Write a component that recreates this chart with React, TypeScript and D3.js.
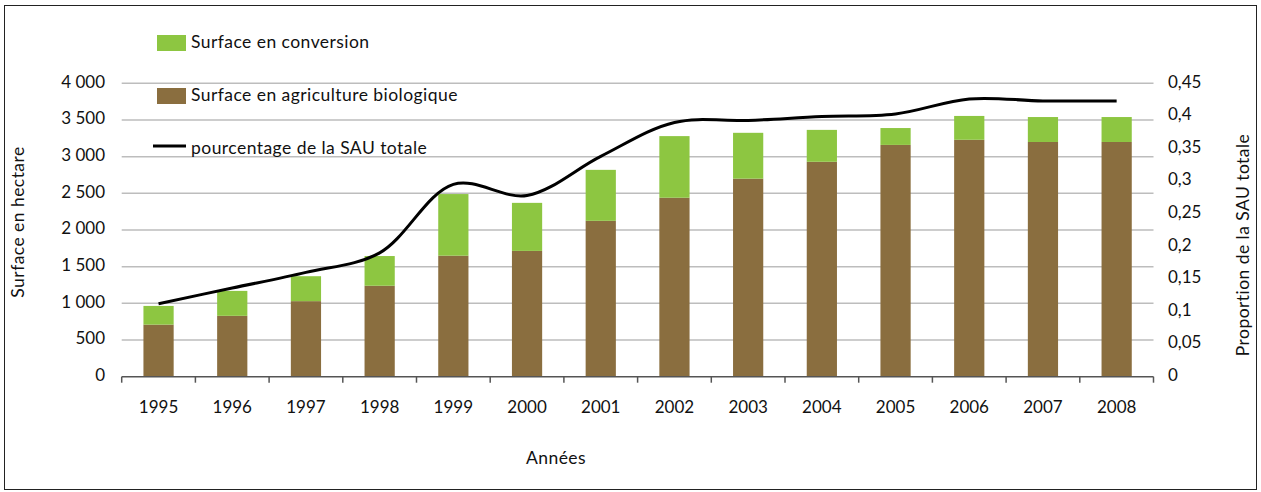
import * as d3 from "d3"

const years = ["1995", "1996", "1997", "1998", "1999", "2000", "2001", "2002", "2003", "2004", "2005", "2006", "2007", "2008"]
const surfaceBio = [710, 830, 1030, 1240, 1650, 1715, 2125, 2440, 2700, 2930, 3160, 3230, 3200, 3200]
const surfaceConversion = [255, 340, 340, 405, 840, 655, 695, 840, 625, 435, 230, 325, 340, 340]
const pourcentageSAU = [0.112, 0.136, 0.16, 0.19, 0.295, 0.278, 0.338, 0.39, 0.393, 0.399, 0.403, 0.426, 0.423, 0.423]
const leftTicks = [0, 500, 1000, 1500, 2000, 2500, 3000, 3500, 4000]
const rightTicks = [0, 0.05, 0.1, 0.15, 0.2, 0.25, 0.3, 0.35, 0.4, 0.45]

const width = 1261
const height = 492
const GREEN = "#8dc641"
const BROWN = "#8a6e3f"
const FONT = "Lato, sans-serif"
const FS_NUM = 17
const FS_TXT = 17.5
const LS = 0.45

const frLeft = (v: number) => (v >= 1000 ? `${Math.floor(v / 1000)} ${String(v % 1000).padStart(3, "0")}` : String(v))
const frRight = (v: number) => String(+v.toFixed(2)).replace(".", ",")

export default function App() {
  const margin = { left: 121.7, right: 1153.5, top: 83.3, bottom: 376.7 }

  const x = d3.scaleBand<string>().domain(years).range([margin.left, margin.right]).paddingInner(0.59).paddingOuter(0.295)
  const xCat = d3.scaleBand<string>().domain(years).range([margin.left, margin.right])
  const yLeft = d3.scaleLinear().domain([0, 4000]).range([margin.bottom, margin.top])
  const yRight = d3.scaleLinear().domain([0, 0.45]).range([margin.bottom, margin.top])

  const line = d3
    .line<number>()
    .x((_, i) => xCat(years[i])! + xCat.bandwidth() / 2)
    .y((d) => yRight(d))
    .curve(d3.curveCatmullRom.alpha(0.5))

  const boundaries = d3.range(years.length + 1).map((i) => margin.left + i * xCat.step())

  return (
    <svg width={width} height={height} style={{ position: "absolute", left: 0, top: 0 }} fontFamily={FONT}>
      <rect x={4.5} y={5.5} width={1252} height={484} fill="white" stroke="#222" strokeWidth={1} />

      {/* grid */}
      {leftTicks.slice(1).map((t) => (
        <line key={t} x1={margin.left} x2={margin.right} y1={yLeft(t)} y2={yLeft(t)} stroke="#bdbdbd" strokeWidth={1.5} />
      ))}

      {/* bars */}
      {years.map((yr, i) => {
        const bx = x(yr)!
        const w = x.bandwidth()
        return (
          <g key={yr}>
            <rect x={bx} y={yLeft(surfaceBio[i])} width={w} height={yLeft(0) - yLeft(surfaceBio[i])} fill={BROWN} />
            <rect
              x={bx}
              y={yLeft(surfaceBio[i] + surfaceConversion[i])}
              width={w}
              height={yLeft(surfaceBio[i]) - yLeft(surfaceBio[i] + surfaceConversion[i])}
              fill={GREEN}
            />
          </g>
        )
      })}

      {/* x axis */}
      <line x1={margin.left} x2={margin.right} y1={margin.bottom} y2={margin.bottom} stroke="#555" strokeWidth={1.5} />
      {boundaries.map((bx, i) => (
        <line key={i} x1={bx} x2={bx} y1={margin.bottom} y2={margin.bottom + 6} stroke="#555" strokeWidth={1.5} />
      ))}
      {years.map((yr) => (
        <text key={yr} x={xCat(yr)! + xCat.bandwidth() / 2} y={409} textAnchor="middle" dominantBaseline="middle" fontSize={FS_NUM} fill="#111">
          {yr}
        </text>
      ))}

      {/* line */}
      <path d={line(pourcentageSAU)!} fill="none" stroke="#000" strokeWidth={3} />

      {/* left axis labels */}
      {leftTicks.map((t) => (
        <text key={t} x={105} y={yLeft(t)} textAnchor="end" dominantBaseline="middle" fontSize={FS_NUM} fill="#111">
          {frLeft(t)}
        </text>
      ))}
      {/* right axis labels */}
      {rightTicks.map((t) => (
        <text key={t} x={1168} y={yRight(t)} textAnchor="start" dominantBaseline="middle" fontSize={FS_NUM} fill="#111">
          {frRight(t)}
        </text>
      ))}

      {/* axis titles */}
      <text transform="translate(20,222) rotate(-90)" textAnchor="middle" dominantBaseline="middle" fontSize={FS_TXT} letterSpacing={LS} fill="#111">
        Surface en hectare
      </text>
      <text transform="translate(1245,245) rotate(-90)" textAnchor="middle" dominantBaseline="middle" fontSize={FS_TXT} letterSpacing={LS} fill="#111">
        Proportion de la SAU totale
      </text>
      <text x={556} y={460} textAnchor="middle" dominantBaseline="middle" fontSize={FS_TXT} letterSpacing={LS} fill="#111">
        Années
      </text>

      {/* legend */}
      <rect x={157} y={35} width={29} height={16} fill={GREEN} />
      <text x={191} y={44} dominantBaseline="middle" fontSize={FS_TXT} letterSpacing={LS} fill="#111">
        Surface en conversion
      </text>
      <rect x={157} y={88} width={29} height={16} fill={BROWN} />
      <text x={191} y={97} dominantBaseline="middle" fontSize={FS_TXT} letterSpacing={LS} fill="#111">
        Surface en agriculture biologique
      </text>
      <line x1={153} x2={186} y1={146} y2={146} stroke="#000" strokeWidth={3} />
      <text x={191} y={150} dominantBaseline="middle" fontSize={FS_TXT} letterSpacing={LS} fill="#111">
        pourcentage de la SAU totale
      </text>
    </svg>
  )
}
